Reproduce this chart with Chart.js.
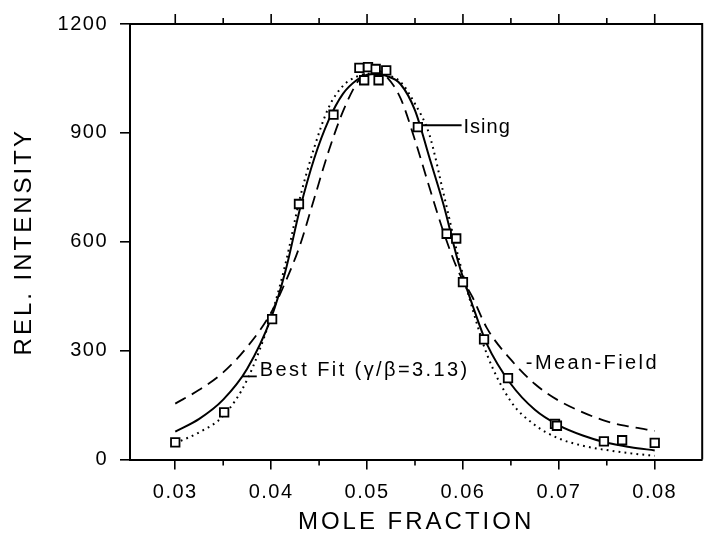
<!DOCTYPE html>
<html>
<head>
<meta charset="utf-8">
<script src="https://cdn.jsdelivr.net/npm/chart.js@4.4.1/dist/chart.umd.min.js"></script>
<style>
html,body{margin:0;padding:0;background:#fff;}
#wrap{width:710px;height:554px;}
</style>
</head>
<body>
<div id="wrap"><canvas id="c" width="710" height="554"></canvas></div>
<script>
// ---- data ----
const xTicksMajor = [0.03, 0.04, 0.05, 0.06, 0.07, 0.08];
const xTicksMinor = [0.035, 0.045, 0.055, 0.065, 0.075];
const yTicks = [0, 300, 600, 900, 1200];

// measured points (open squares)
const measX = [0.0300, 0.0351, 0.0401, 0.0429, 0.0465, 0.0492, 0.0497, 0.0501, 0.0509, 0.0512, 0.0520,
               0.0553, 0.0583, 0.0593, 0.0600, 0.0622, 0.0647, 0.0696, 0.0698, 0.0747, 0.0766, 0.0800];
const measY = [47, 130, 387, 704, 950, 1079, 1045, 1081, 1076, 1045, 1072,
               916, 622, 609, 489, 331, 224, 98, 93, 50, 53, 46];

// curves
const curveX = [0.030, 0.0325, 0.035, 0.0375, 0.040, 0.0415, 0.043, 0.0445, 0.046, 0.0475, 0.049, 0.050,
                0.051, 0.052, 0.0535, 0.055, 0.0565, 0.058, 0.0595, 0.061, 0.0625, 0.065, 0.0675,
                0.070, 0.0725, 0.075, 0.0775, 0.080];
const bestFit = [77, 112, 165, 250, 390, 520, 690, 830, 935, 1008, 1047, 1060,
                 1062, 1057, 1034, 962, 832, 700, 545, 425, 318, 208, 137,
                 94, 66, 46, 34, 25];
const meanField = [154, 192, 240, 310, 405, 490, 590, 720, 850, 960, 1040, 1068,
                   1073, 1056, 995, 880, 750, 625, 520, 447, 362, 275, 208,
                   162, 130, 105, 90, 79];
const ising = [45, 75, 120, 220, 395, 540, 720, 860, 970, 1030, 1056, 1063,
               1064, 1060, 1040, 980, 895, 730, 560, 415, 290, 160, 95,
               58, 38, 26, 17, 10];

const FONT = "'Liberation Sans', Arial, Helvetica, sans-serif";

const pts = (xs, ys) => xs.map((x, i) => ({x: x, y: ys[i]}));

// annotations anchored in data coordinates
const notes = [
  {text: 'Ising', x: 0.06006, y: 916, spacing: '1px', lead: [0.05573, 0.05986, 921]},
  {text: 'Best Fit (\u03B3/\u03B2=3.13)', x: 0.0388, y: 245, spacing: '2.4px', lead: [0.03705, 0.0385, 229]},
  {text: '-Mean-Field', x: 0.06656, y: 264, spacing: '2.4px', lead: null}
];

const framePlugin = {
  id: 'frame',
  beforeUpdate(chart) { chart.ctx.letterSpacing = '1.5px'; },
  beforeDraw(chart) {
    chart.ctx.letterSpacing = '1.5px';
    for (const s of Object.values(chart.scales)) {
      if (!s._wrappedTitle) {
        const orig = s.drawTitle;
        s.drawTitle = function () {
          const c = this.ctx;
          const prev = c.letterSpacing;
          c.letterSpacing = '3px';
          orig.apply(this, arguments);
          c.letterSpacing = prev;
        };
        s._wrappedTitle = true;
      }
    }
  },
  afterDraw(chart) {
    const ctx = chart.ctx;
    const {left, right, top, bottom} = chart.chartArea;
    const x = chart.scales.x, y = chart.scales.y;
    ctx.save();
    ctx.letterSpacing = '0px';
    ctx.strokeStyle = '#000';
    ctx.lineWidth = 2;
    ctx.beginPath();
    ctx.moveTo(left, top); ctx.lineTo(right, top); ctx.lineTo(right, bottom);
    ctx.stroke();
    ctx.lineWidth = 1.6;
    ctx.beginPath();
    xTicksMajor.forEach(v => {
      const px = x.getPixelForValue(v);
      ctx.moveTo(px, top); ctx.lineTo(px, top - 10);
    });
    xTicksMinor.forEach(v => {
      const px = x.getPixelForValue(v);
      ctx.moveTo(px, top); ctx.lineTo(px, top - 6);
      ctx.moveTo(px, bottom); ctx.lineTo(px, bottom + 6);
    });
    ctx.stroke();
    // annotations
    ctx.fillStyle = '#000';
    ctx.font = '20px ' + FONT;
    ctx.textAlign = 'left';
    ctx.textBaseline = 'middle';
    notes.forEach(n => {
      if (n.lead) {
        ctx.beginPath();
        ctx.lineWidth = 1.8;
        const ly = y.getPixelForValue(n.lead[2]);
        ctx.moveTo(x.getPixelForValue(n.lead[0]), ly);
        ctx.lineTo(x.getPixelForValue(n.lead[1]), ly);
        ctx.stroke();
      }
      ctx.letterSpacing = n.spacing;
      ctx.fillText(n.text, x.getPixelForValue(n.x), y.getPixelForValue(n.y));
    });
    ctx.restore();
  }
};

new Chart(document.getElementById('c'), {
  type: 'scatter',
  data: {
    datasets: [
      {
        label: 'data', data: pts(measX, measY),
        pointStyle: 'rect', pointRadius: 6, pointBorderWidth: 1.8,
        borderColor: '#000', backgroundColor: '#fff', showLine: false
      },
      {
        label: 'Best Fit', data: pts(curveX, bestFit), showLine: true,
        borderColor: '#000', borderWidth: 2, pointRadius: 0,
        cubicInterpolationMode: 'monotone', fill: false
      },
      {
        label: 'Mean-Field', data: pts(curveX, meanField), showLine: true,
        borderColor: '#000', borderWidth: 1.8, borderDash: [12, 7], pointRadius: 0,
        cubicInterpolationMode: 'monotone', fill: false
      },
      {
        label: 'Ising', data: pts(curveX, ising), showLine: true,
        borderColor: '#000', borderWidth: 2, borderDash: [1.8, 4.2], pointRadius: 0,
        cubicInterpolationMode: 'monotone', fill: false
      }
    ]
  },
  options: {
    responsive: false,
    animation: false,
    devicePixelRatio: 1,
    layout: {padding: {top: 17, right: 2, left: 0, bottom: 0}},
    plugins: {legend: {display: false}, tooltip: {enabled: false}},
    scales: {
      x: {
        type: 'linear', position: 'bottom', min: 0.02528, max: 0.08495,
        afterBuildTicks: s => { s.ticks = xTicksMajor.map(v => ({value: v})); },
        afterFit: s => { s.height = 94.5; },
        ticks: {
          callback: v => Number(v).toFixed(2),
          font: {family: FONT, size: 20}, color: '#000', padding: 11,
          maxRotation: 0, autoSkip: false
        },
        grid: {drawOnChartArea: false, drawTicks: true, tickLength: 10, color: '#000', lineWidth: 1.6},
        border: {display: true, color: '#000', width: 2},
        title: {
          display: true, text: 'MOLE FRACTION', color: '#000',
          font: {family: FONT, size: 24}, padding: {top: 0, bottom: 17}
        }
      },
      y: {
        type: 'linear', position: 'left', min: 0, max: 1200,
        afterBuildTicks: s => { s.ticks = yTicks.map(v => ({value: v})); },
        afterFit: s => { s.width = 130; },
        ticks: {
          callback: v => String(v),
          font: {family: FONT, size: 20}, color: '#000', padding: 12
        },
        grid: {drawOnChartArea: false, drawTicks: true, tickLength: 10, color: '#000', lineWidth: 1.6},
        border: {display: true, color: '#000', width: 2},
        title: {
          display: true, text: 'REL. INTENSITY', color: '#000',
          font: {family: FONT, size: 24}, padding: {top: 9.6, bottom: 0}
        }
      }
    }
  },
  plugins: [framePlugin]
});
</script>
</body>
</html>
